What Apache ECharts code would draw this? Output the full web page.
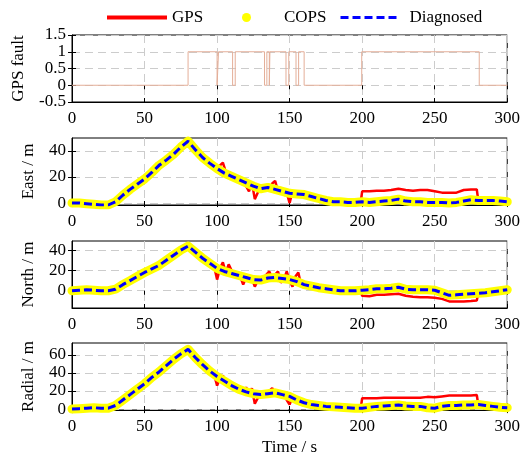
<!DOCTYPE html>
<html><head><meta charset="utf-8">
<script src="https://cdn.jsdelivr.net/npm/echarts@6/dist/echarts.min.js"></script>
<style>html,body{margin:0;padding:0;background:#fff}#c{width:523px;height:461px}</style>
</head><body><div id="c"></div>
<script>
// ---- data ----
const times = [0,5,10,15,20,25,30,35,40,45,50,55,60,65,70,75,80,85,90,95,100,105,110,115,120,125,130,135,140,145,150,155,160,165,170,175,180,185,190,195,200,205,210,215,220,225,230,235,240,245,250,255,260,265,270,275,280,285,290,295,300];
const eastTrue = [0,0,-0.5,-1,-1.5,-1.5,1,6,10.5,14.5,18.5,23.5,29,33,37.5,43,47.5,41,35,30.5,26.5,23,20.5,18,15.5,13,11,12,10.5,9,7.5,7,6.5,5,3.5,2,1,1,0.5,0.5,1,0.5,1,1.5,2,3,1.5,1,1,0.5,0.5,0.5,0,0.5,1.5,2.5,2,2,2,1.5,1];
const northTrue = [0,0.5,1,0.5,0,0,1.5,6,10,14,18,21.5,25,30,35,40,44,38,32,27,22,19,17,15,13,11,10.5,12.5,13,12,11,9,6,4.5,3,2,1,0,0,0,0.5,1,2,2,2.5,3.5,1.5,1,1,1,0.5,-2,-4.5,-4,-3.5,-3,-2.5,-2,-1,0,1];
const radialTrue = [0,0.5,1,1.5,1,1,4,10,16,22,28,35,41,48,55,61,66,57,49,42,36,31,26,22,19,17,16,17,18,16,14,10,7,5,4,3,2.5,2,1.5,1,1,2,3,3.5,4,4.5,3.5,3,3,1.5,1,3,4,4,4.5,4.5,5,4,3,2,1.5];

const gpsTimes = [0,5,10,15,20,25,30,35,40,45,50,55,60,65,70,75,80,85,90,95,
  96,98,100,102,104,106,108,110,112,114,116,118,120,122,124,126,128,130,132,134,136,138,140,142,144,146,148,150,152,154,156,158,160,
  165,170,175,180,185,190,195,199,
  200,205,210,215,220,225,230,235,240,245,250,255,260,265,270,275,279,
  280,285,290,295,300];
const gpsEast = [0,0,-0.5,-1,-1.5,-1.5,1,6,10.5,14.5,18.5,23.5,29,33,37.5,43,47.5,42,35.5,30.5,
  29.5,28,25,29,31,24,22,21,19,19.5,17,16,13,9,16,3,8,14,10,12,9,15,17,9,12,6,8,0,9,5,8,6,6.5,
  5,3.5,2,1,1,0.5,0.5,1,
  9,9,9.5,9.5,10,11,10,9.5,10,10,9,8,8,8,10,10.5,10.5,
  2,2,2,1.5,1];
const gpsNorth = [0,0.5,1,0.5,0,0,1.5,6,10,14,18,21.5,25,30,35,40,44,38,32,27,
  26,24,11,22,28,18,26,20,15,17,14,6,13,10,12,4,10,12,13,16,19,12,16,19,8,11,19,10,4,14,18,5,6,
  4.5,3,2,1,0,0,0,0.5,
  -5,-5.5,-4,-4,-3.5,-3,-5,-6,-6.5,-6.5,-7,-8,-10.5,-10.5,-10.5,-10,-9.5,
  -2.5,-2,-1,0,1];
const gpsRadial = [0,0.5,1,1.5,1,1,4,10,16,22,28,35,41,48,55,61,66,57,49,42,
  41,38,26,34,37,30,28,26,24,23,21,19,24,17,23,6,12,15,17,16,20,23,18,17,15,18,10,5,14,9,10,8,7,
  5,4,3,2.5,2,1.5,1,1,
  12,12,12,12.5,12.5,12.5,12.5,12.5,12.5,13.5,13,14,15,15,15,15,15.5,
  5,4,3,2,1.5];

const faultTimes = [0,80,80,100,100,101,101,110.7,110.7,112.5,112.5,132.7,132.7,134.3,134.3,136,136,136.4,136.4,147.5,147.5,149.4,149.4,154.4,154.4,156.2,156.2,160,160,199.7,199.7,280.7,280.7,300];
const faultValues = [0,0,1,1,0,0,1,1,0,0,1,1,0,0,1,1,0,0,1,1,0,0,1,1,0,0,1,1,0,0,1,1,0,0];

const yNames = ['GPS fault','East / m','North / m','Radial / m'];
const yTicks = [[-0.5,0,0.5,1,1.5],[0,20,40],[0,20,40],[0,20,40,60]];
const xTicksInterval = 50;

// ---- chart ----
const FONT = 'Liberation Serif, Times New Roman, serif';
const yRange = [[-0.5,1.5],[-1.5,50],[-17,49],[-1,73]];
const tops = [35,138,241,343];
const nameGaps = [45,35,35,35];
const gridLine = {show:true, lineStyle:{color:'#cccccc', width:1, type:[8,5]}};
const txt = {color:'#000', fontFamily:FONT, fontSize:17};

const zip = (a,b)=>a.map((t,i)=>[t,b[i]]);
// panel 1 labels are dense: split them over two label layers so none is auto-hidden
const evenLabels = yTicks[0].filter((v,k)=>k%2===0);
const oddLabels = yTicks[0].filter((v,k)=>k%2===1);
const grids=[], xAxes=[], yAxes=[], series=[];
for (let i=0;i<4;i++){
  grids.push({left:72, right:15, top:tops[i], height:67, show:true, borderColor:'#000', borderWidth:1, containLabel:false});
  xAxes.push({type:'value', gridIndex:i, min:0, max:300, interval:xTicksInterval,
    axisLine:{show:true, onZero:false, lineStyle:{color:'#000', width:1}},
    axisTick:{show:true, inside:true, length:4, lineStyle:{color:'#000'}},
    axisLabel:Object.assign({margin:8}, txt),
    splitLine:gridLine,
    name: i===3 ? 'Time / s' : '', nameLocation:'middle', nameGap:29, nameTextStyle:txt});
  yAxes.push({type:'value', gridIndex:i, min:yRange[i][0], max:yRange[i][1], position:'left', offset:0,
    axisLine:{show:true, onZero:false, lineStyle:{color:'#000', width:1}},
    axisTick:{show:true, inside:true, length:4, customValues:yTicks[i], lineStyle:{color:'#000'}},
    axisLabel:Object.assign({margin:6, customValues: i===0 ? evenLabels : yTicks[i], showMinLabel:true, showMaxLabel:true}, txt),
    splitLine:gridLine,
    name:yNames[i], nameLocation:'middle', nameGap:nameGaps[i], nameTextStyle:txt});
}
for (let i=0;i<4;i++){
  xAxes.push({type:'value', gridIndex:i, position:'top', min:0, max:300, interval:xTicksInterval,
    axisLine:{show:false}, axisTick:{show:true, inside:true, length:4, lineStyle:{color:'#000'}},
    axisLabel:{show:false}, splitLine:{show:false}});
  yAxes.push({type:'value', gridIndex:i, position:'right', offset:0, min:yRange[i][0], max:yRange[i][1],
    axisLine:{show:false}, axisTick:{show:true, inside:true, length:4, customValues:yTicks[i], lineStyle:{color:'#000'}},
    axisLabel:{show:false, customValues:yTicks[i]}, splitLine:{show:false}});
}
// extra label layer for panel 1 (values 0 and 1)
yAxes.push({type:'value', gridIndex:0, position:'left', offset:0, min:yRange[0][0], max:yRange[0][1],
  axisLine:{show:false}, axisTick:{show:false, customValues:oddLabels},
  axisLabel:Object.assign({margin:6, customValues:oddLabels, showMinLabel:true, showMaxLabel:true}, txt),
  splitLine:{show:false}});

series.push({name:'fault', type:'line', xAxisIndex:0, yAxisIndex:0, data:zip(faultTimes,faultValues),
  symbol:'none', lineStyle:{color:'#e4ae98', width:1}, itemStyle:{color:'#e4ae98'}});
const truths=[eastTrue,northTrue,radialTrue];
const gpss=[gpsEast,gpsNorth,gpsRadial];
for (let p=1;p<4;p++){
  series.push({name:'GPS', type:'line', xAxisIndex:p, yAxisIndex:p, data:zip(gpsTimes,gpss[p-1]),
    symbol:'none', z:2, lineStyle:{color:'#ff0000', width:2.5}, itemStyle:{color:'#ff0000'}});
  series.push({name:'COPS', type:'line', xAxisIndex:p, yAxisIndex:p, data:zip(times,truths[p-1]),
    symbol:'none', z:3, lineStyle:{color:'#ffff00', width:9, cap:'round', join:'round'}, itemStyle:{color:'#ffff00'}});
  series.push({name:'Diagnosed', type:'line', xAxisIndex:p, yAxisIndex:p, data:zip(times,truths[p-1]),
    symbol:'none', z:4, lineStyle:{color:'#0000ff', width:3, type:[8,4]}, itemStyle:{color:'#0000ff'}});
}

const chart = echarts.init(document.getElementById('c'), null, {renderer:'canvas'});
chart.setOption({
  animation:false,
  backgroundColor:'#fff',
  legend:[
    {top:4, left:100, itemWidth:60, itemHeight:8, textStyle:txt, selectedMode:false,
      data:[{name:'GPS', itemStyle:{opacity:0}, lineStyle:{width:4}}]},
    {top:4, left:237, itemWidth:9, itemHeight:9, selectedMode:false,
      textStyle:Object.assign({padding:[0,0,0,28]}, txt),
      data:[{name:'COPS', icon:'circle'}]},
    {top:4, left:334, itemWidth:56, itemHeight:8, textStyle:Object.assign({padding:[0,0,0,8]}, txt), selectedMode:false,
      data:[{name:'Diagnosed', itemStyle:{opacity:0}, lineStyle:{width:3}}]}
  ],
  grid:grids, xAxis:xAxes, yAxis:yAxes, series:series
});
</script>
</body></html>
